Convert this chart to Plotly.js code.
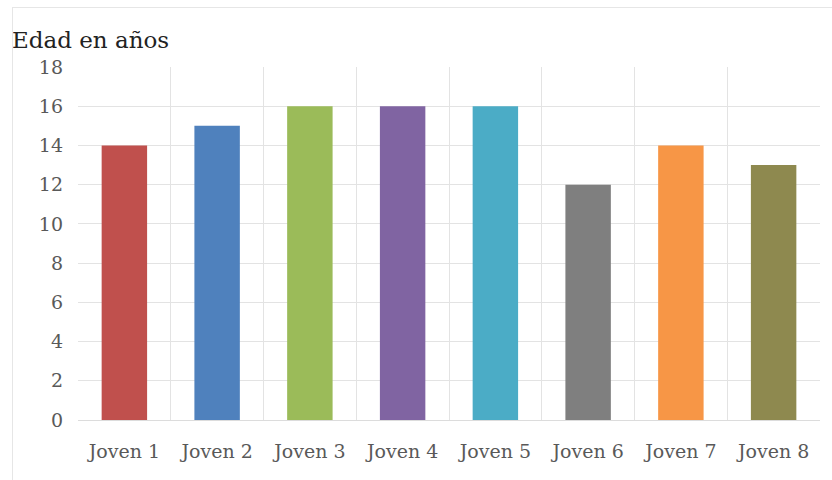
<!DOCTYPE html>
<html>
<head>
<meta charset="utf-8">
<script src="https://cdn.plot.ly/plotly-3.0.1.min.js"></script>
<style>
html,body{margin:0;padding:0;background:#fff;}
#wrap{position:relative;width:832px;height:480px;}
#chart{width:832px;height:480px;}
#frame{position:absolute;left:12px;top:7px;width:830px;height:480px;border-left:1px solid #e6e6e6;border-top:1px solid #e6e6e6;pointer-events:none;}
</style>
</head>
<body>
<div id="wrap"><div id="chart"></div><div id="frame"></div></div>
<script>
const categories = ["Joven 1","Joven 2","Joven 3","Joven 4","Joven 5","Joven 6","Joven 7","Joven 8"];
const edades = [14, 15, 16, 16, 16, 12, 14, 13];
const colores = ["#C0504D","#4F81BD","#9BBB59","#8064A2","#4BACC6","#7F7F7F","#F79646","#8E894F"];
const yTicks = [0,2,4,6,8,10,12,14,16,18];

const trace = {
  type: "bar",
  x: categories,
  y: edades,
  marker: {color: colores},
  hoverinfo: "x+y"
};

const serif = "DejaVu Serif, Liberation Serif, serif";

const layout = {
  width: 832, height: 480,
  margin: {l: 78, r: 12, t: 67, b: 60},
  paper_bgcolor: "rgba(0,0,0,0)",
  plot_bgcolor: "#fff",
  bargap: 0.51,
  showlegend: false,
  font: {family: serif, color: "#595959", size: 19},
  title: {
    text: "Edad en años",
    xref: "container", yref: "container",
    x: 12/832, xanchor: "left",
    y: 1 - 40/480, yanchor: "middle",
    font: {family: serif, size: 23, color: "#222"}
  },
  xaxis: {
    type: "category",
    tickson: "boundaries",
    showgrid: true,
    gridcolor: "#e3e3e3",
    gridwidth: 1,
    ticks: "",
    showline: false,
    ticklabelstandoff: 18,
    tickfont: {family: serif, size: 19, color: "#595959"}
  },
  yaxis: {
    range: [0, 18],
    tickvals: yTicks,
    ticktext: yTicks.map(String),
    showgrid: true,
    gridcolor: "#e3e3e3",
    gridwidth: 1,
    zeroline: true,
    zerolinecolor: "#dcdcdc",
    zerolinewidth: 1,
    ticks: "",
    ticklen: 0,
    showline: false,
    ticklabelstandoff: 14,
    tickfont: {family: serif, size: 19, color: "#595959"}
  }
};

Plotly.newPlot("chart", [trace], layout, {displayModeBar: false, staticPlot: true});
</script>
</body>
</html>
